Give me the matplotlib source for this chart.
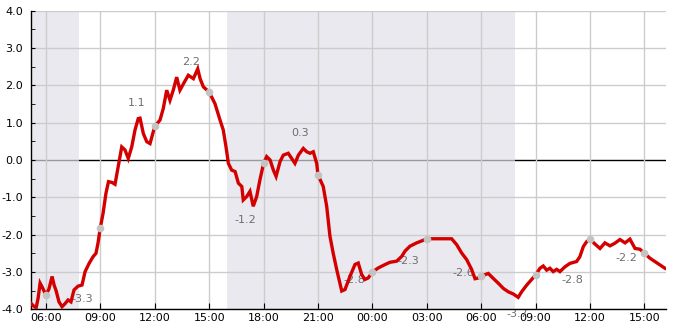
import matplotlib
matplotlib.use("Agg")
import matplotlib.pyplot as plt
import numpy as np

# time in hours since 00:00 of day 1
hours = [5.16, 5.29, 5.46, 5.57, 5.68, 5.79, 6.0, 6.17, 6.34, 6.45, 6.56, 6.72, 6.89, 7.05,
         7.22, 7.38, 7.55, 7.77, 7.99, 8.16, 8.38, 8.60, 8.76, 8.87, 9.0, 9.15, 9.31, 9.45,
         9.64, 9.81, 9.92, 10.18, 10.36, 10.54, 10.73, 10.91, 11.09, 11.19, 11.37, 11.56,
         11.74, 11.92, 12.0, 12.29, 12.47, 12.66, 12.84, 13.02, 13.21, 13.39, 13.58, 13.85,
         14.13, 14.37, 14.50, 14.68, 15.0, 15.32, 15.60, 15.78, 15.93, 16.06, 16.24, 16.43,
         16.61, 16.80, 16.88, 17.07, 17.25, 17.43, 17.62, 17.80, 18.0, 18.17, 18.36, 18.54,
         18.69, 18.91, 19.09, 19.36, 19.55, 19.73, 19.92, 20.19, 20.38, 20.56, 20.74, 20.93,
         21.0, 21.29, 21.48, 21.66, 21.84, 22.03, 22.31, 22.49, 22.77, 23.04, 23.22, 23.41,
         23.59, 23.77, 24.0, 24.33, 24.70, 24.97, 25.34, 25.62, 25.80, 26.07, 26.44, 26.81,
         27.0, 27.36, 28.37, 28.65, 28.92, 29.20, 29.47, 29.66, 29.84, 30.0, 30.39, 30.66,
         30.94, 31.22, 31.49, 31.77, 32.04, 32.23, 32.51, 32.78, 33.0, 33.24, 33.42, 33.61,
         33.79, 33.97, 34.16, 34.34, 34.62, 34.89, 35.26, 35.44, 35.63, 35.81, 36.0, 36.27,
         36.55, 36.82, 37.10, 37.37, 37.65, 37.93, 38.20, 38.48, 38.75, 39.0, 39.30, 39.58,
         39.86, 40.13]
values = [-3.83, -3.9, -3.96, -3.7, -3.3, -3.4, -3.62, -3.45, -3.12, -3.35, -3.5, -3.8, -3.93, -3.85,
          -3.75, -3.8, -3.48, -3.38, -3.35, -2.99, -2.77, -2.59, -2.5, -2.23, -1.81, -1.43, -0.89, -0.58,
          -0.6, -0.65, -0.35, 0.35, 0.27, 0.04, 0.35, 0.8, 1.11, 1.12, 0.71, 0.49,
          0.44, 0.76, 0.9, 1.07, 1.38, 1.87, 1.6, 1.87, 2.22, 1.87, 2.04, 2.27,
          2.18, 2.44, 2.18, 1.96, 1.82, 1.51, 1.07, 0.8, 0.35, -0.09, -0.27, -0.31,
          -0.62, -0.71, -1.07, -0.98, -0.84, -1.24, -0.98, -0.53, -0.09, 0.09, 0.0, -0.27,
          -0.44, -0.04, 0.13, 0.18, 0.04, -0.09, 0.13, 0.31, 0.22, 0.18, 0.22, -0.09,
          -0.4, -0.71, -1.24, -2.04, -2.5, -2.93, -3.51, -3.47, -3.11, -2.8, -2.76, -3.07,
          -3.2, -3.16, -3.0, -2.89, -2.8, -2.74, -2.71, -2.58, -2.44, -2.31, -2.22, -2.15,
          -2.11, -2.11, -2.11, -2.27, -2.49, -2.67, -2.93, -3.18, -3.16, -3.11, -3.04, -3.17,
          -3.3, -3.44, -3.53, -3.59, -3.68, -3.53, -3.35, -3.2, -3.08, -2.9, -2.84, -2.95,
          -2.9, -2.99, -2.93, -2.99, -2.86, -2.77, -2.72, -2.59, -2.32, -2.19, -2.12, -2.25,
          -2.37, -2.22, -2.3, -2.23, -2.13, -2.22, -2.12, -2.37, -2.39, -2.5, -2.63, -2.72,
          -2.81, -2.9]

# grey markers every 3 hours
dot_hours = [6, 9, 12, 15, 18, 21, 24, 27, 30, 33, 36, 39]
dot_values = [-3.62, -1.81, 0.9, 1.82, -0.09, -0.4, -3.0, -2.11, -3.11, -3.08, -2.12, -2.5]

# value labels
label_hours = [8, 11, 14, 17, 20, 23, 26, 29, 32, 35, 38]
label_values = [-3.3, 1.1, 2.2, -1.2, 0.3, -2.8, -2.3, -2.6, -3.7, -2.8, -2.2]

# night shading
night_start = [-8.0, 16.0]
night_end = [7.85, 31.85]

xtick_hours = [6, 9, 12, 15, 18, 21, 24, 27, 30, 33, 36, 39]
xtick_labels = ["06:00", "09:00", "12:00", "15:00", "18:00", "21:00",
                "00:00", "03:00", "06:00", "09:00", "12:00", "15:00"]
ytick_values = [4, 3, 2, 1, 0, -1, -2, -3, -4]

plt.rcParams['font.family'] = ['DejaVu Sans']
fig = plt.figure(figsize=(6.85, 3.30), dpi=100)
ax = fig.add_axes([0.0448, 0.0627, 0.9275, 0.9049])

ax.set_xlim(5.16, 40.19)
ax.set_ylim(-4, 4)

ax.axhline(0, color='black', lw=1.0, zorder=0.6)
for s, e in zip(night_start, night_end):
    ax.axvspan(s, e, facecolor=(223/255, 224/255, 233/255), alpha=0.686, lw=0, zorder=0.8)

ax.plot(hours, values, color='#d40000', lw=2.4, solid_joinstyle='miter', zorder=3)
ax.plot(dot_hours, dot_values, 'o', color='#c3c3c3', ms=5.5, mec='none', zorder=4)

for h, v in zip(label_hours, label_values):
    off = 11.2 if v > 0 else -11.2
    ax.annotate(f"{v:.1f}", xy=(h, v), xytext=(0, off), textcoords='offset points',
                ha='center', va='center', fontsize=8, color='#6e6e6e',
                zorder=2.5, annotation_clip=False)

ax.set_xticks(xtick_hours)
ax.set_xticklabels(xtick_labels)
ax.set_yticks(ytick_values)
ax.set_yticklabels([f"{v:.1f}" for v in ytick_values])
ax.set_yticks(np.arange(-4, 4.01, 0.5), minor=True)

ax.set_axisbelow('line')
ax.grid(True, which='major', color='#cccccc', lw=1.0)
for t in ax.yaxis.get_major_ticks():
    if abs(t.get_loc()) < 1e-9:
        t.gridline.set_visible(False)

ax.tick_params(axis='both', which='both', direction='in', labelsize=8, colors='black')
ax.tick_params(axis='y', which='both', length=3, pad=5.5)
ax.tick_params(axis='x', which='major', length=4, pad=2.5)
for sp in ['top', 'right']:
    ax.spines[sp].set_visible(False)
for sp in ['left', 'bottom']:
    ax.spines[sp].set_color('black')
    ax.spines[sp].set_linewidth(1.0)

fig.savefig("out.png", dpi=100)
